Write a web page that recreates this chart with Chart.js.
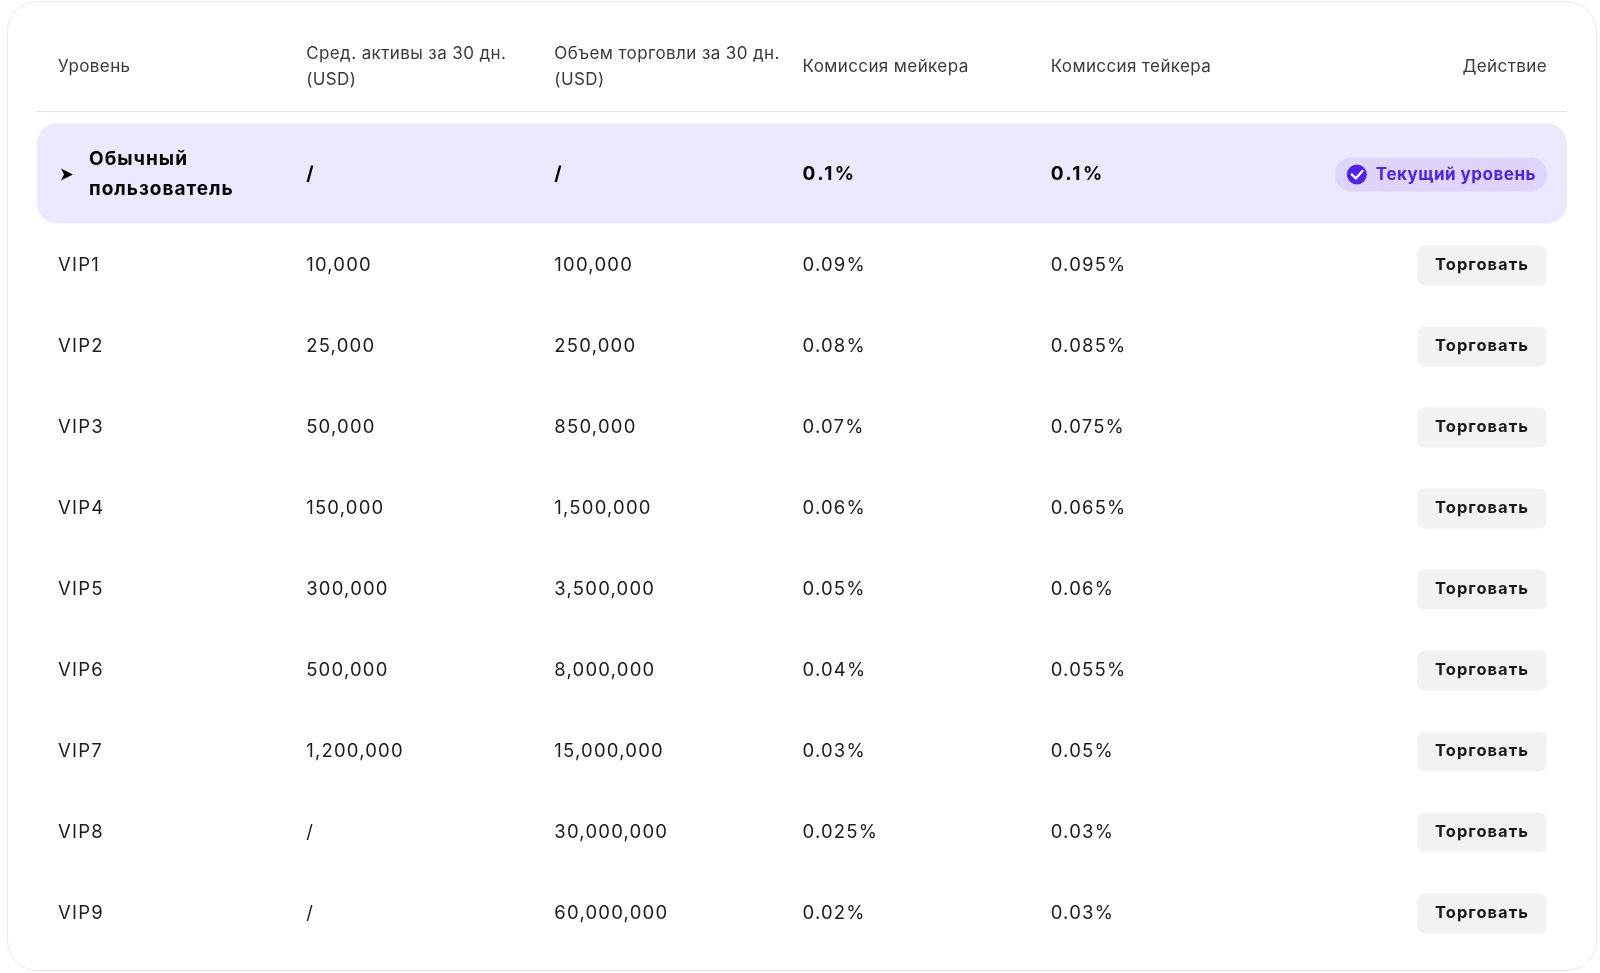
<!DOCTYPE html>
<html>
<head>
<meta charset="utf-8">
<script src="https://cdn.jsdelivr.net/npm/chart.js@4.4.1/dist/chart.umd.min.js"></script>
<style>
  html, body { margin: 0; padding: 0; background: #fff; }
  #wrap { width: 1600px; height: 973px; }
</style>
</head>
<body>
<div id="wrap"><canvas id="feeTable" width="1600" height="973"></canvas></div>
<script>
// данные таблицы
const headers = [
    ['Уровень'],
    ['Сред. активы за 30 дн.', '(USD)'],
    ['Объем торговли за 30 дн.', '(USD)'],
    ['Комиссия мейкера'],
    ['Комиссия тейкера'],
    [],
    ['Действие']
];
const levels = ['Обычный пользователь', 'VIP1', 'VIP2', 'VIP3', 'VIP4', 'VIP5', 'VIP6', 'VIP7', 'VIP8', 'VIP9'];
const avgAssets = ['/', '10,000', '25,000', '50,000', '150,000', '300,000', '500,000', '1,200,000', '/', '/'];
const tradeVolume = ['/', '100,000', '250,000', '850,000', '1,500,000', '3,500,000', '8,000,000', '15,000,000', '30,000,000', '60,000,000'];
const makerFee = ['0.1%', '0.09%', '0.08%', '0.07%', '0.06%', '0.05%', '0.04%', '0.03%', '0.025%', '0.02%'];
const takerFee = ['0.1%', '0.095%', '0.085%', '0.075%', '0.065%', '0.06%', '0.055%', '0.05%', '0.03%', '0.03%'];
const actions = ['Текущий уровень', 'Торговать', 'Торговать', 'Торговать', 'Торговать', 'Торговать', 'Торговать', 'Торговать', 'Торговать', 'Торговать'];
const currentLevel = 0;

const FONT = 'Inter, "Noto Sans", sans-serif';

function roundRect(ctx, x, y, w, h, r) {
    ctx.beginPath();
    ctx.roundRect(x, y, w, h, r);
}

const tablePlugin = {
    id: 'tablePlugin',
    beforeDraw(chart) {
        const ctx = chart.ctx;
        const xs = chart.scales.x;
        const ys = chart.scales.y;

        ctx.save();
        // карточка
        roundRect(ctx, 7.5, 1.5, 1589, 969, 30);
        ctx.fillStyle = '#ffffff';
        ctx.fill();
        ctx.strokeStyle = '#e8e8e8';
        ctx.lineWidth = 1;
        ctx.stroke();

        const left = xs.getPixelForValue(0) - 21;
        const right = xs.getPixelForValue(6) + 20;

        // заголовки
        ctx.font = '400 17px ' + FONT;
        ctx.letterSpacing = '0.4px';
        ctx.fillStyle = '#3a3a3a';
        ctx.textBaseline = 'middle';
        headers.forEach((lines, col) => {
            const x = xs.getPixelForValue(col);
            ctx.textAlign = col === 6 ? 'right' : 'left';
            if (lines.length === 1) {
                ctx.fillText(lines[0], x, 67);
            } else if (lines.length === 2) {
                ctx.fillText(lines[0], x, 54);
                ctx.fillText(lines[1], x, 80);
            }
        });

        // разделитель
        ctx.beginPath();
        ctx.moveTo(left, 111.5);
        ctx.lineTo(right, 111.5);
        ctx.strokeStyle = '#e4e4e4';
        ctx.stroke();

        // подсветка текущего уровня
        const yc = ys.getPixelForValue(currentLevel) - 10;
        roundRect(ctx, left, yc - 51, right - left, 100, 20);
        ctx.fillStyle = '#ede8fe';
        ctx.fill();
        ctx.restore();
    },
    afterDraw(chart) {
        const ctx = chart.ctx;
        const xs = chart.scales.x;
        const ys = chart.scales.y;
        ctx.save();
        ctx.textBaseline = 'middle';

        levels.forEach((lvl, i) => {
            const isCur = i === currentLevel;
            const y = ys.getPixelForValue(i) - (isCur ? 10 : 0);
            const cells = [lvl, avgAssets[i], tradeVolume[i], makerFee[i], takerFee[i]];
            ctx.fillStyle = isCur ? '#000000' : '#1c1c1c';
            ctx.font = (isCur ? '700 19px ' : '400 18.5px ') + FONT;
            ctx.letterSpacing = isCur ? '1px' : '1.2px';
            ctx.textAlign = 'left';
            cells.forEach((txt, col) => {
                const x = xs.getPixelForValue(col);
                if (col === 0 && isCur) {
                    // стрелка
                    ctx.beginPath();
                    ctx.moveTo(x + 3, y - 6);
                    ctx.lineTo(x + 15, y);
                    ctx.lineTo(x + 3, y + 6);
                    ctx.lineTo(x + 6, y);
                    ctx.closePath();
                    ctx.fill();
                    const parts = txt.split(' ');
                    ctx.fillText(parts[0], x + 31, y - 15);
                    ctx.fillText(parts[1], x + 31, y + 15);
                } else if (isCur && col >= 3) {
                    ctx.save();
                    ctx.letterSpacing = '2.4px';
                    ctx.fillText(txt, x, y);
                    ctx.restore();
                } else {
                    ctx.fillText(txt, x, y);
                }
            });

            const xr = xs.getPixelForValue(6);
            if (isCur) {
                // бейдж
                ctx.font = '700 17px ' + FONT;
                ctx.letterSpacing = '0.5px';
                const tw = ctx.measureText(actions[i]).width;
                const bw = tw + 52;
                roundRect(ctx, xr - bw, y - 17, bw, 34, 17);
                ctx.fillStyle = '#ddd5fd';
                ctx.fill();
                ctx.beginPath();
                ctx.arc(xr - bw + 22, y, 10, 0, Math.PI * 2);
                ctx.fillStyle = '#5022ee';
                ctx.fill();
                ctx.beginPath();
                ctx.moveTo(xr - bw + 17, y);
                ctx.lineTo(xr - bw + 21, y + 4);
                ctx.lineTo(xr - bw + 27.5, y - 3.5);
                ctx.strokeStyle = '#ffffff';
                ctx.lineWidth = 2.4;
                ctx.lineCap = 'round';
                ctx.lineJoin = 'round';
                ctx.stroke();
                ctx.fillStyle = '#5022ee';
                ctx.textAlign = 'right';
                ctx.fillText(actions[i], xr - 11, y);
            } else {
                // кнопка
                const bw = 130;
                roundRect(ctx, xr - bw, y - 20, bw, 40, 8);
                ctx.fillStyle = '#f2f2f2';
                ctx.fill();
                ctx.font = '700 16.5px ' + FONT;
                ctx.letterSpacing = '1px';
                ctx.fillStyle = '#1a1a1a';
                ctx.textAlign = 'center';
                ctx.fillText(actions[i], xr - bw / 2, y);
            }
        });
        ctx.restore();
    }
};

new Chart(document.getElementById('feeTable'), {
    type: 'scatter',
    data: { datasets: [{ data: [] }] },
    options: {
        responsive: false,
        animation: false,
        events: [],
        layout: { padding: { left: 58, right: 53, top: 144, bottom: 19 } },
        plugins: { legend: { display: false }, tooltip: { enabled: false } },
        scales: {
            x: { type: 'linear', min: 0, max: 6, display: false },
            y: { type: 'category', labels: levels, offset: true, display: false }
        }
    },
    plugins: [tablePlugin]
});
</script>
</body>
</html>
